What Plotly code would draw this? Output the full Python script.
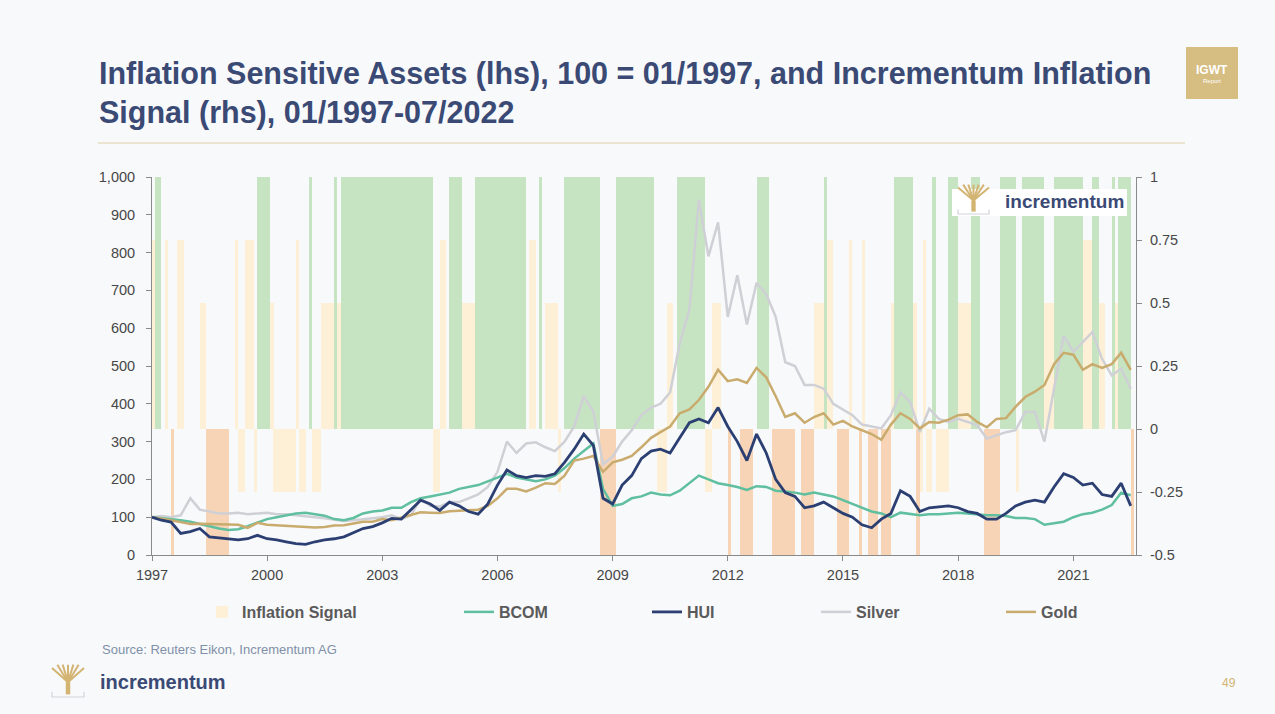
import pandas as pd
import plotly.graph_objects as go

# quarterly readings of the lhs series, 100 = 01/1997
quarters = pd.date_range("1997-01-01", periods=103, freq="QS")

bcom = [100, 98, 96, 92, 88, 82, 75, 70, 66, 68, 76, 86, 95, 100, 104, 110, 112, 108, 104, 95, 92, 98, 110, 115, 118, 125,
        125, 140, 150, 155, 160, 165, 175, 180, 185, 195, 205, 215, 205, 200, 195, 200, 210, 230, 255, 275, 295, 175, 130, 135, 150, 155,
        165, 160, 158, 170, 190, 210, 200, 190, 185, 180, 172, 182, 180, 170, 168, 165, 160, 165, 160, 155, 145, 135, 125, 115, 110,
        100, 112, 108, 105, 108, 108, 110, 112, 110, 108, 105, 105, 103, 98, 98, 95, 80, 84, 88, 100, 108, 112, 120, 132, 165, 158]

hui = [100, 92, 87, 57, 62, 70, 48, 45, 43, 40, 43, 52, 43, 40, 35, 30, 28, 35, 40, 43, 48, 60, 70, 75, 85, 97,
       95, 120, 145, 135, 118, 140, 130, 115, 108, 135, 185, 225, 210, 205, 210, 208, 215, 245, 280, 320, 290, 150, 135, 185, 210, 255,
       275, 280, 270, 310, 350, 360, 350, 390, 340, 300, 250, 320, 270, 200, 165, 155, 125, 130, 140, 125, 110, 100, 80, 72, 95,
       110, 170, 155, 115, 125, 128, 130, 125, 115, 110, 95, 95, 110, 130, 140, 145, 140, 180, 215, 205, 185, 190, 160, 155, 190, 130]

silver = [100, 103, 100, 105, 150, 120, 115, 110, 110, 112, 108, 110, 112, 108, 108, 105, 103, 100, 97, 93, 90, 92, 95, 97, 100, 105,
          95, 105, 150, 130, 128, 140, 140, 150, 160, 180, 220, 300, 270, 295, 298, 285, 275, 300, 340, 420, 380, 240, 260, 300, 330, 370,
          390, 400, 430, 560, 650, 940, 790, 880, 630, 740, 610, 720, 690, 630, 510, 500, 450, 450, 440, 400, 385, 370, 345, 340, 335,
          370, 430, 405, 325, 387, 360, 352, 360, 352, 343, 308, 316, 325, 330, 378, 378, 300, 440, 580, 537, 563, 590, 519, 475, 493, 440]

gold = [100, 97, 92, 87, 82, 83, 82, 83, 82, 80, 72, 85, 80, 79, 78, 76, 75, 73, 74, 78, 79, 84, 88, 88, 95, 92,
        99, 106, 113, 112, 111, 116, 118, 120, 120, 130, 150, 175, 175, 168, 178, 190, 188, 210, 250, 255, 262, 220, 245, 252, 262, 285,
        310, 325, 340, 375, 385, 410, 445, 490, 460, 465, 455, 495, 470, 420, 365, 375, 350, 365, 375, 345, 355, 340, 330, 320, 305,
        345, 375, 360, 335, 352, 350, 358, 370, 372, 352, 338, 360, 362, 392, 418, 432, 450, 505, 535, 530, 490, 505, 495, 505, 535, 490]

# monthly Incrementum Inflation Signal (rhs), one row per year 1997-2022
inflation_signal = [
    0.75, 1, 1, 0, 0.75, 0, -0.5, 0, 0.75, 0.75, 0, 0,
    0, 0, 0, 0.5, 0.5, -0.5, -0.5, -0.5, -0.5, -0.5, -0.5, -0.5,
    0, 0, 0.75, -0.25, -0.25, 0.75, 0.75, 0.75, -0.25, 1, 1, 1,
    1, 0.5, -0.25, -0.25, -0.25, -0.25, -0.25, -0.25, -0.25, 0.75, -0.25, -0.25,
    0, 1, -0.25, -0.25, -0.25, 0.5, 0.5, 0.5, 0.5, 1, 0.5, 1,
    1, 1, 1, 1, 1, 1, 1, 1, 1, 1, 1, 1,
    1, 1, 1, 1, 1, 1, 1, 1, 1, 1, 1, 1,
    1, 1, 1, 1, -0.25, -0.25, 0.75, 0.75, 0, 1, 1, 1,
    1, 0.5, 0.5, 0.5, 0.5, 1, 1, 1, 1, 1, 1, 1,
    1, 1, 1, 1, 1, 1, 1, 1, 1, 0, 0.75, 0.75,
    0, 1, 0, 0.5, 0.5, 0.5, 0.5, -0.25, 0, 1, 1, 1,
    1, 1, 1, 1, 1, 1, 1, 1, -0.5, -0.5, -0.5, -0.5,
    -0.5, 1, 1, 1, 1, 1, 1, 1, 1, 1, 1, 1,
    1, 0, -0.25, -0.25, -0.25, 0.5, 0.5, 0, 1, 1, 1, 1,
    1, 1, 1, 1, 1, -0.25, -0.25, 0.5, 0.5, 0.5, 0, 0,
    -0.5, 0, 0, 0, -0.5, -0.5, -0.5, -0.5, 0, 1, 1, 1,
    1, 0, -0.5, -0.5, -0.5, -0.5, -0.5, -0.5, -0.5, 0, 0, -0.5,
    -0.5, -0.5, -0.5, 0.5, 0.5, 0.5, 1, 0.75, 0.75, 0, -0.5, -0.5,
    -0.5, -0.5, 0.75, 0, 0, -0.5, 0.75, 0, -0.5, -0.5, -0.5, 0,
    -0.5, -0.5, -0.5, 0.5, 1, 1, 1, 1, 1, 1, 0.5, -0.5,
    -0.25, 0.75, -0.25, -0.25, 1, -0.25, -0.25, -0.25, -0.25, 1, 1, 1,
    0.5, 0.5, 0.5, 0.5, 1, 1, 1, 0, -0.5, -0.5, -0.5, -0.5,
    -0.5, 1, 1, 1, 1, 1, -0.25, 0, 1, 1, 1, 1,
    1, 1, 1, 0.5, 0.5, 0.5, 1, 1, 1, 1, 1, 1,
    1, 1, 1, 0.75, 0.75, 0.75, 1, 1, 0.5, 0.5, 0, 0,
    1, 0.5, 1, 1, 1, 1, -0.5,
]

x_ticks = ["1997", "2000", "2003", "2006", "2009", "2012", "2015", "2018", "2021"]
rhs_ticks = [-0.5, -0.25, 0, 0.25, 0.5, 0.75, 1]
rhs_labels = ["-0.5", "-0.25", "0", "0.25", "0.5", "0.75", "1"]

NAVY = "#3a4a75"
GOLD_LOGO = "#d3b472"
FONT = "Liberation Sans, Arial, sans-serif"
BG = "#f8f9fb"

# plot area in pixels
L, R, T, B = 152, 1136, 177, 555
W, H = R - L, B - T


def px(x):
    return (x - L) / W


def py(y):
    return (B - y) / H


months = pd.date_range("1997-01-01", periods=len(inflation_signal), freq="MS") + pd.Timedelta(days=15)
month_ms = 31 * 24 * 3600 * 1000

green = [v if v == 1 else None for v in inflation_signal]
orange = [v if v == -0.5 else None for v in inflation_signal]
pale = [v if v not in (1, -0.5, 0) else None for v in inflation_signal]

fig = go.Figure()

fig.add_trace(go.Bar(x=months, y=pale, width=month_ms, name="Inflation Signal",
                     marker=dict(color="#fdf0d6", line_width=0), yaxis="y", legend="legend"))
fig.add_trace(go.Bar(x=months, y=green, width=month_ms, name="Inflation Signal", showlegend=False,
                     marker=dict(color="#c6e4c1", line_width=0), yaxis="y"))
fig.add_trace(go.Bar(x=months, y=orange, width=month_ms, name="Inflation Signal", showlegend=False,
                     marker=dict(color="#f8d4b6", line_width=0), yaxis="y"))

fig.add_trace(go.Scatter(x=quarters, y=silver, name="Silver", mode="lines", yaxis="y2", legend="legend4",
                         line=dict(color="#cfd0d6", width=2.5)))
fig.add_trace(go.Scatter(x=quarters, y=bcom, name="BCOM", mode="lines", yaxis="y2", legend="legend2",
                         line=dict(color="#5fbf9f", width=2.5)))
fig.add_trace(go.Scatter(x=quarters, y=gold, name="Gold", mode="lines", yaxis="y2", legend="legend5",
                         line=dict(color="#c9ab6e", width=2.5)))
fig.add_trace(go.Scatter(x=quarters, y=hui, name="HUI", mode="lines", yaxis="y2", legend="legend3",
                         line=dict(color="#2c3f72", width=2.8)))

axis_common = dict(showline=True, linecolor="#8a8a8a", linewidth=1, ticks="outside", ticklen=5,
                   tickcolor="#8a8a8a", showgrid=False, zeroline=False,
                   tickfont=dict(family=FONT, size=14.5, color="#474747"))


def legend_at(text_left):
    return dict(x=px(text_left - 40), y=py(612), xanchor="left", yanchor="middle",
                orientation="h", bgcolor="rgba(0,0,0,0)", borderwidth=0,
                font=dict(family=FONT, size=16, color="#5a5a5a", weight="bold"))


fig.update_layout(
    width=1275, height=714,
    margin=dict(l=L, r=1275 - R, t=T, b=714 - B),
    paper_bgcolor=BG, plot_bgcolor=BG,
    barmode="overlay", bargap=0,
    xaxis=dict(type="date", range=["1997-01-01", "2022-08-20"], ticklabelstandoff=2,
               tickvals=[t + "-01-01" for t in x_ticks], ticktext=x_ticks, **axis_common),
    yaxis=dict(side="right", range=[-0.5, 1], tickvals=rhs_ticks, ticktext=rhs_labels,
               ticklabelstandoff=5, **axis_common),
    yaxis2=dict(side="left", overlaying="y", range=[0, 1000], dtick=100, tickformat=",",
                ticklabelstandoff=8, **axis_common),
    legend=legend_at(242),
    legend2=legend_at(499),
    legend3=legend_at(687),
    legend4=legend_at(856),
    legend5=legend_at(1041),
    showlegend=True,
)

shapes = []
annotations = []


def note(text, x, y, size, color, xanchor="left", bold=False):
    annotations.append(dict(text=f"<b>{text}</b>" if bold else text, x=px(x), y=py(y),
                            xref="paper", yref="paper", xanchor=xanchor, yanchor="middle",
                            showarrow=False, font=dict(family=FONT, size=size, color=color)))


# title and divider
note("Inflation Sensitive Assets (lhs), 100 = 01/1997, and Incrementum Inflation", 97, 74, 30.5, NAVY, bold=True)
note("Signal (rhs), 01/1997-07/2022", 97, 112, 30.5, NAVY, bold=True)
shapes.append(dict(type="line", xref="paper", yref="paper", x0=px(98), x1=px(1185), y0=py(143), y1=py(143),
                   line=dict(color="#e9dcc3", width=1.5)))

# IGWT badge
shapes.append(dict(type="rect", xref="paper", yref="paper", x0=px(1186), x1=px(1238), y0=py(99), y1=py(47),
                   fillcolor="#d6bd82", line_width=0))
note("IGWT", 1212, 70, 12, "white", xanchor="center", bold=True)
note("Report", 1212, 81, 6, "white", xanchor="center")


def tree(x0, y0, w, h):
    cx = x0 + w / 2
    hub = y0 + h * 0.55
    for k in range(7):
        tx = x0 + w * k / 6
        ty = y0 + h * (0.12 if k in (0, 6) else 0.02)
        shapes.append(dict(type="line", xref="paper", yref="paper", layer="above",
                           x0=px(cx), y0=py(hub), x1=px(tx), y1=py(ty),
                           line=dict(color=GOLD_LOGO, width=2)))
    shapes.append(dict(type="rect", xref="paper", yref="paper", layer="above",
                       x0=px(cx - w * 0.07), x1=px(cx + w * 0.07), y0=py(y0 + h * 0.92), y1=py(hub),
                       fillcolor=GOLD_LOGO, line_width=0))
    shapes.append(dict(type="path", xref="paper", yref="paper", layer="above",
                       path=f"M {px(x0)},{py(y0 + h * 0.85)} L {px(x0)},{py(y0 + h)} L {px(x0 + w)},{py(y0 + h)} "
                            f"L {px(x0 + w)},{py(y0 + h * 0.85)}",
                       line=dict(color="#cfd3da", width=1.2)))


# logo inside the chart
shapes.append(dict(type="rect", xref="paper", yref="paper", layer="above",
                   x0=px(952), x1=px(1127), y0=py(216), y1=py(189), fillcolor="white", line_width=0))
tree(958, 184, 31, 30)
note("incrementum", 1003, 201, 19, NAVY, bold=True)

# footer
note("Source: Reuters Eikon, Incrementum AG", 100, 649, 13, "#8090a8")
tree(52, 664, 32, 33)
note("incrementum", 98, 682, 20, NAVY, bold=True)
note("49", 1229, 683, 12, "#d3b472", xanchor="center")

fig.update_layout(shapes=shapes, annotations=annotations)

fig.write_html("out.html", config={"displayModeBar": False},
               post_script="document.body.style.margin='0';")
